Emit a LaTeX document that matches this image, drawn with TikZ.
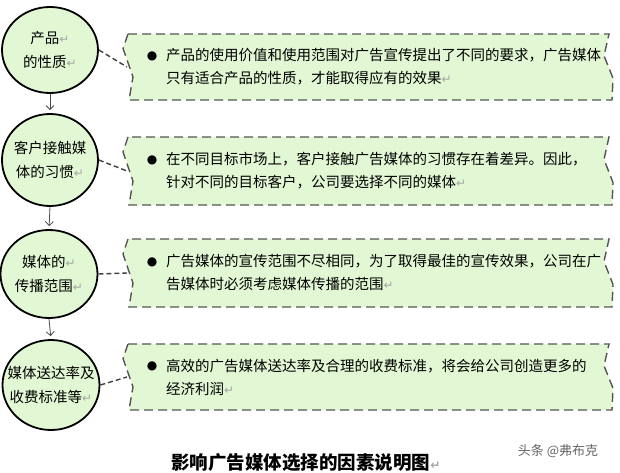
\documentclass[tikz,border=0pt]{standalone}
\usepackage{fontspec}
\usetikzlibrary{arrows.meta,shapes.geometric}

\newfontfamily\cjk{Noto Sans CJK SC}
\newfontfamily\symfont{DejaVu Sans}

\definecolor{leaf}{RGB}{226,248,212}
\definecolor{dashgray}{RGB}{85,85,85}

% paragraph mark
\newcommand{\ret}{{\symfont\color{black!35}\fontsize{12}{12}\selectfont ↵}}

% callout box: #1 name of the notch, #2 top, #3 bottom
\newcommand{\callbox}[3]{%
  \draw[boxline] (128,#2) -- (123,{#2+0.22*(#3-#2)}) -- (133,{#2+0.65*(#3-#2)}) -- (129,#3)
    -- (612,#3) -- (613,{#2+0.67*(#3-#2)}) -- (604,{#2+0.33*(#3-#2)}) -- (609,#2) -- cycle;
  \coordinate (#1) at (127,{#2+0.5*(#3-#2)});
}

\begin{document}
\begin{tikzpicture}[x=1pt,y=-1pt,>={Straight Barb[length=4pt,width=8pt]},
    factor/.style={ellipse,draw,line width=1.8pt,fill=leaf,inner sep=0pt},
    ftext/.style={align=center,inner sep=0pt,font=\cjk\fontsize{14.5}{24}\selectfont},
    note/.style={align=left,anchor=west,inner sep=0pt,font=\cjk\fontsize{14.5}{23}\selectfont},
    dot/.style={inner sep=0pt,font=\symfont\fontsize{12}{12}\selectfont},
    boxline/.style={draw=dashgray,fill=leaf,line width=1.4pt,dash pattern=on 9pt off 5pt},
    link/.style={draw=black!75,line width=1.4pt,dash pattern=on 5pt off 3pt},
    down/.style={->,draw=black!70,line width=0.8pt,shorten >=3pt}]

    \fill[white] (0,0) rectangle (620,473);
    \useasboundingbox (0,0) rectangle (620,473);

    % factors
    \node[factor,minimum width=96pt,minimum height=86pt] (c1) at (50,50) {};
    \node[factor,minimum width=96pt,minimum height=92pt] (c2) at (50,160) {};
    \node[factor,minimum width=97pt,minimum height=88pt] (c3) at (49,274) {};
    \node[factor,minimum width=97pt,minimum height=90pt] (c4) at (51,385) {};

    \node[ftext] (t1) at (c1) {产品\ret\\的性质\ret};
    \node[ftext] (t2) at (c2) {客户接触媒\\体的习惯\ret};
    \node[ftext] (t3) at (c3) {媒体的\ret\\传播范围\ret};
    \node[ftext] (t4) at (c4) {媒体送达率及\\收费标准等\ret};

    % explanations
    \callbox{n1}{34}{100}
    \callbox{n2}{137}{205}
    \callbox{n3}{239}{307}
    \callbox{n4}{344}{410}

    \node[dot] (d1) at (152,56) {●};
    \node[dot] (d2) at (152,160) {●};
    \node[dot] (d3) at (152,262) {●};
    \node[dot] (d4) at (152,366) {●};

    \node[note] (e1) at (166,67) {产品的使用价值和使用范围对广告宣传提出了不同的要求，广告媒体\\只有适合产品的性质，才能取得应有的效果\ret};
    \node[note] (e2) at (166,171) {在不同目标市场上，客户接触广告媒体的习惯存在着差异。因此，\\针对不同的目标客户，公司要选择不同的媒体\ret};
    \node[note] (e3) at (166,273) {广告媒体的宣传范围不尽相同，为了取得最佳的宣传效果，公司在广\\告媒体时必须考虑媒体传播的范围\ret};
    \node[note] (e4) at (166,377) {高效的广告媒体送达率及合理的收费标准，将会给公司创造更多的\\经济利润\ret};

    \draw[down] (c1.south) -- (c2.north);
    \draw[down] (c2.south) -- (c3.north);
    \draw[down] (c3.south) -- (c4.north);

    \path[link] (c1.east) edge (n1)
                (c2.east) edge (n2)
                (c3.east) edge (n3)
                (c4.east) edge (n4);

    % caption
    \node[inner sep=0pt,font=\cjk\bfseries\fontsize{18.5}{20}\selectfont] (cap) at (306,463) {影响广告媒体选择的因素说明图\ret};
    \node[inner sep=0pt,text=black!60,font=\cjk\fontsize{13}{14}\selectfont] (mark) at (558,451) {头条 @弗布克};
\end{tikzpicture}
\end{document}
